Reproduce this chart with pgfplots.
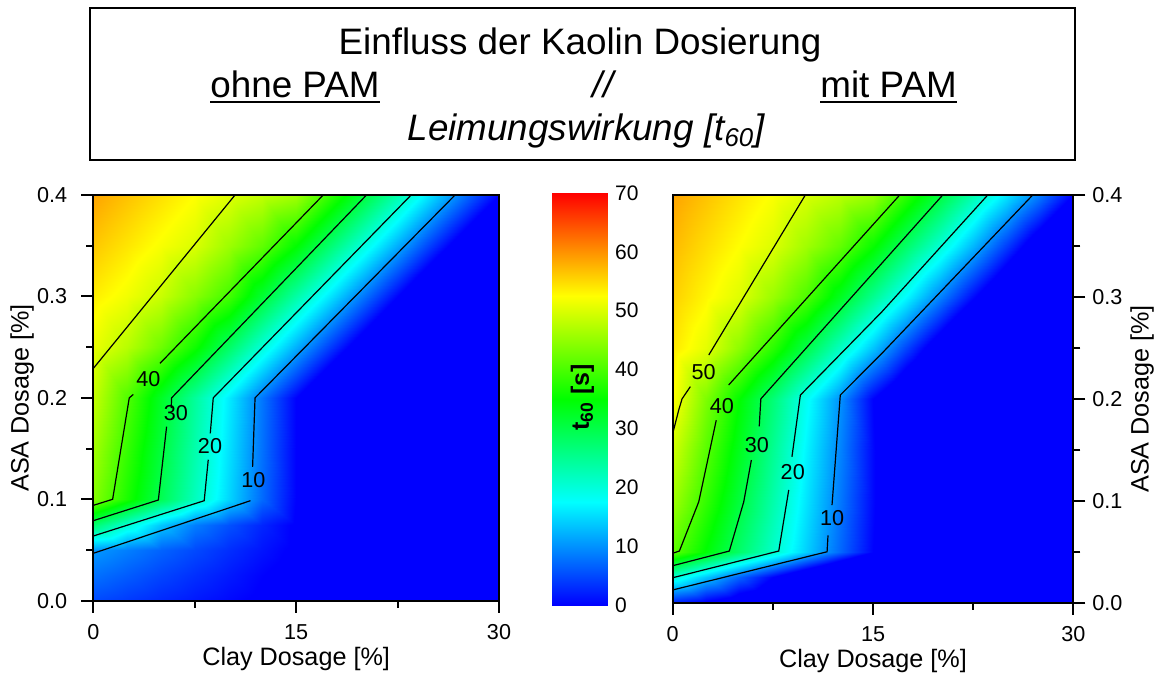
\documentclass[border=0pt]{standalone}
\usepackage{fontspec}
\setmainfont{Liberation Sans}
\usepackage{pgfplots}
\usepackage{pgfplotstable}
\pgfplotsset{compat=1.18}
\pgfplotsset{/pgf/number format/assume math mode=true}
% colour bar map (0..70)
\pgfplotsset{colormap={origin}{rgb255(0cm)=(0,0,255); rgb255(1cm)=(0,255,255); rgb255(2cm)=(0,255,0); rgb255(3cm)=(255,255,0); rgb255(4cm)=(255,0,0)}}
% same map for the fields, extended below 0 with constant blue (-30..70)
\pgfplotsset{colormap={originext}{rgb255(0pt)=(0,0,255); rgb255(30pt)=(0,0,255); rgb255(47.5pt)=(0,255,255); rgb255(65pt)=(0,255,0); rgb255(82.5pt)=(255,255,0); rgb255(100pt)=(255,0,0)}}
\newcommand\tickfont{\fontsize{10.8}{13}\selectfont}
\newcommand\labfont{\fontsize{12.6}{15}\selectfont}
\newcommand\titlefont{\fontsize{18.4}{22}\selectfont}

% t60 grid, ohne PAM (clay, ASA, t60); values below 0 render as the same blue
\pgfplotstableread[row sep=\\]{
x y z\\
0 0 5.0\\2.5 0 3.9\\5 0 2.7\\7.5 0 1.6\\10 0 0.5\\12.5 0 -0.6\\15 0 -1.7\\17.5 0 -2.8\\20 0 -3.9\\22.5 0 -5\\25 0 -6\\27.5 0 -7\\30 0 -8\\
0 0.025 7.8\\2.5 0.025 6.3\\5 0.025 4.7\\7.5 0.025 3.2\\10 0.025 1.7\\12.5 0.025 0.1\\15 0.025 -1.4\\17.5 0.025 -2.9\\20 0.025 -4.4\\22.5 0.025 -6\\25 0.025 -7.5\\27.5 0.025 -9\\30 0.025 -10.5\\
0 0.05 10.5\\2.5 0.05 8.7\\5 0.05 6.8\\7.5 0.05 5.0\\10 0.05 3.1\\12.5 0.05 1.3\\15 0.05 -0.6\\17.5 0.05 -2.4\\20 0.05 -4.2\\22.5 0.05 -6\\25 0.05 -8\\27.5 0.05 -10\\30 0.05 -12\\
0 0.075 27.4\\2.5 0.075 20.4\\5 0.075 13.6\\7.5 0.075 8.6\\10 0.075 5.5\\12.5 0.075 2.5\\15 0.075 -0.5\\17.5 0.075 -3.5\\20 0.075 -6.5\\22.5 0.075 -9.5\\25 0.075 -12.5\\27.5 0.075 -15.5\\30 0.075 -18.5\\
0 0.1 44.2\\2.5 0.1 36.8\\5 0.1 29.4\\7.5 0.1 22.0\\10 0.1 14.7\\12.5 0.1 7.3\\15 0.1 0\\17.5 0.1 -7.4\\20 0.1 -14.7\\22.5 0.1 -22\\25 0.1 -29.4\\27.5 0.1 -30\\30 0.1 -30\\
0 0.15 46.3\\2.5 0.15 38.6\\5 0.15 30.9\\7.5 0.15 23.2\\10 0.15 15.5\\12.5 0.15 7.8\\15 0.15 0\\17.5 0.15 -7.7\\20 0.15 -15.4\\22.5 0.15 -23.1\\25 0.15 -30\\27.5 0.15 -30\\30 0.15 -30\\
0 0.2 48.6\\2.5 0.2 40.5\\5 0.2 32.4\\7.5 0.2 24.3\\10 0.2 16.2\\12.5 0.2 8.1\\15 0.2 0\\17.5 0.2 -8.1\\20 0.2 -16.2\\22.5 0.2 -24.3\\25 0.2 -30\\27.5 0.2 -30\\30 0.2 -30\\
0 0.25 51.2\\2.5 0.25 47.6\\5 0.25 42.5\\7.5 0.25 36.0\\10 0.25 28.1\\12.5 0.25 20.1\\15 0.25 12.1\\17.5 0.25 4.1\\20 0.25 -3.8\\22.5 0.25 -11.8\\25 0.25 -19.8\\27.5 0.25 -27.8\\30 0.25 -30\\
0 0.3 53.7\\2.5 0.3 51.6\\5 0.3 48.8\\7.5 0.3 44.3\\10 0.3 39.5\\12.5 0.3 31.6\\15 0.3 23.7\\17.5 0.3 15.9\\20 0.3 8.0\\22.5 0.3 0\\25 0.3 -7.9\\27.5 0.3 -15.8\\30 0.3 -23.7\\
0 0.35 56.3\\2.5 0.35 54.2\\5 0.35 52.0\\7.5 0.35 49.9\\10 0.35 45.7\\12.5 0.35 41.5\\15 0.35 35.0\\17.5 0.35 27.2\\20 0.35 19.5\\22.5 0.35 11.7\\25 0.35 3.9\\27.5 0.35 -3.9\\30 0.35 -11.7\\
0 0.4 58.8\\2.5 0.4 56.7\\5 0.4 54.6\\7.5 0.4 52.5\\10 0.4 50.4\\12.5 0.4 48.3\\15 0.4 46.2\\17.5 0.4 38.5\\20 0.4 30.8\\22.5 0.4 23.1\\25 0.4 15.4\\27.5 0.4 7.7\\30 0.4 0\\
}\leftgrid

% t60 grid, mit PAM
\pgfplotstableread[row sep=\\]{
x y z\\
0 0 2.0\\2.5 0 -1\\5 0 -4\\7.5 0 -7\\10 0 -10\\12.5 0 -13\\15 0 -16\\17.5 0 -19\\20 0 -22\\22.5 0 -25\\25 0 -28\\27.5 0 -30\\30 0 -30\\
0 0.025 20.4\\2.5 0.025 13.6\\5 0.025 6.8\\7.5 0.025 0\\10 0.025 -6.8\\12.5 0.025 -13.6\\15 0.025 -20.4\\17.5 0.025 -27\\20 0.025 -30\\22.5 0.025 -30\\25 0.025 -30\\27.5 0.025 -30\\30 0.025 -30\\
0 0.05 41.3\\2.5 0.05 34.7\\5 0.05 27.9\\7.5 0.05 21.2\\10 0.05 14.3\\12.5 0.05 7.1\\15 0.05 0\\17.5 0.05 -7.1\\20 0.05 -14.2\\22.5 0.05 -21.3\\25 0.05 -28.4\\27.5 0.05 -30\\30 0.05 -30\\
0 0.075 43.6\\2.5 0.075 36.6\\5 0.075 29.4\\7.5 0.075 22.3\\10 0.075 15.1\\12.5 0.075 7.7\\15 0.075 0.3\\17.5 0.075 -7\\20 0.075 -14\\22.5 0.075 -21\\25 0.075 -28\\27.5 0.075 -30\\30 0.075 -30\\
0 0.1 45.9\\2.5 0.1 38.4\\5 0.1 30.9\\7.5 0.1 23.3\\10 0.1 15.8\\12.5 0.1 8.3\\15 0.1 0.5\\17.5 0.1 -7\\20 0.1 -14\\22.5 0.1 -21\\25 0.1 -28\\27.5 0.1 -30\\30 0.1 -30\\
0 0.15 49.2\\2.5 0.15 41.0\\5 0.15 33.1\\7.5 0.15 25.0\\10 0.15 16.9\\12.5 0.15 9.1\\15 0.15 0.5\\17.5 0.15 -7.5\\20 0.15 -15\\22.5 0.15 -22.5\\25 0.15 -30\\27.5 0.15 -30\\30 0.15 -30\\
0 0.2 52.5\\2.5 0.2 43.5\\5 0.2 35.1\\7.5 0.2 26.9\\10 0.2 18.3\\12.5 0.2 10.0\\15 0.2 0\\17.5 0.2 -7.5\\20 0.2 -15\\22.5 0.2 -22.5\\25 0.2 -30\\27.5 0.2 -30\\30 0.2 -30\\
0 0.25 54.1\\2.5 0.25 50.7\\5 0.25 44.7\\7.5 0.25 37.8\\10 0.25 30.0\\12.5 0.25 21.7\\15 0.25 13.5\\17.5 0.25 4.7\\20 0.25 -4.0\\22.5 0.25 -12.7\\25 0.25 -21.4\\27.5 0.25 -30\\30 0.25 -30\\
0 0.3 55.7\\2.5 0.3 53.0\\5 0.3 50.3\\7.5 0.3 45.5\\10 0.3 40.3\\12.5 0.3 32.8\\15 0.3 25.1\\17.5 0.3 17.3\\20 0.3 8.9\\22.5 0.3 0.6\\25 0.3 -7.7\\27.5 0.3 -16\\30 0.3 -24\\
0 0.35 57.2\\2.5 0.35 54.8\\5 0.35 52.5\\7.5 0.35 50.1\\10 0.35 46.0\\12.5 0.35 41.7\\15 0.35 35.5\\17.5 0.35 27.9\\20 0.35 20.4\\22.5 0.35 12.6\\25 0.35 4.0\\27.5 0.35 -4.5\\30 0.35 -13\\
0 0.4 58.8\\2.5 0.4 56.6\\5 0.4 54.4\\7.5 0.4 52.2\\10 0.4 49.9\\12.5 0.4 47.7\\15 0.4 45.5\\17.5 0.4 38.1\\20 0.4 30.7\\22.5 0.4 23.2\\25 0.4 15.8\\27.5 0.4 8.4\\30 0.4 0\\
}\rightgrid

\pgfplotstableread[row sep=\\]{
x y z\\
0 0 0\\1 0 0\\0 17.5 17.5\\1 17.5 17.5\\0 35 35\\1 35 35\\0 52.5 52.5\\1 52.5 52.5\\0 70 70\\1 70 70\\
}\cbgrid

\pgfplotsset{
  fieldaxis/.style={scale only axis, scale mode=stretch to fill, view={0}{90}, hide axis,
    enlargelimits=false, zmin=-30, zmax=70, colormap name=originext,
    point meta min=-30, point meta max=70, anchor=south west},
  frameaxis/.style={scale only axis, anchor=south west, xmin=0, xmax=30, ymin=0, ymax=0.4,
    enlargelimits=false, xtick={0,15,30}, ytick={0,0.1,0.2,0.3,0.4},
    minor x tick num=1, minor y tick num=1, tick align=outside,
    axis line style={line width=1pt}, every tick/.style={black, line width=1pt},
    major tick length=6pt, minor tick length=3.5pt,
    tick label style={font=\tickfont},
    xticklabel style={yshift=-2.5pt},
    yticklabel style={/pgf/number format/fixed, /pgf/number format/fixed zerofill, /pgf/number format/precision=1},
    label style={font=\labfont},
    xlabel={Clay Dosage [\%]}, ylabel={ASA Dosage [\%]}},
  ctr/.style={black, line width=0.6pt, no markers},
}

\begin{document}
\begin{tikzpicture}
\useasboundingbox (0,0) rectangle (585pt,338.5pt);

% ---------- left field ----------
\begin{axis}[fieldaxis, at={(46.65pt,38.15pt)}, width=202.85pt, height=202.85pt,
  xmin=0, xmax=30, ymin=0, ymax=0.4]
\addplot3[surf, shader=interp, mesh/cols=13] table {\leftgrid};
\end{axis}
\begin{axis}[frameaxis, at={(46.65pt,38.15pt)}, width=202.85pt, height=202.85pt,
  xtick pos=left, ytick pos=left, yticklabel style={xshift=-3.5pt},
  xlabel style={at={(axis description cs:0.5,-0.1436)}, anchor=center},
  ylabel style={at={(axis description cs:-0.1756,0.5)}, anchor=center}]
\addplot[ctr] coordinates {(0,0.229) (10.48,0.4)};
\addplot[ctr] coordinates {(0,0.094) (1.43,0.1) (2.66,0.2) (2.96,0.2034)};
\addplot[ctr] coordinates {(4.93,0.234) (17.0,0.4)};
\addplot[ctr] coordinates {(0,0.0789) (4.81,0.0993) (5.42,0.1716)};
\addplot[ctr] coordinates {(5.76,0.19) (5.79,0.2) (20.2,0.4)};
\addplot[ctr] coordinates {(0,0.0638) (8.2,0.0986) (8.5,0.139)};
\addplot[ctr] coordinates {(8.65,0.165) (8.87,0.2) (23.5,0.4)};
\addplot[ctr] coordinates {(0,0.0467) (11.62,0.0986)};
\addplot[ctr] coordinates {(11.78,0.132) (11.96,0.2) (26.75,0.4)};
\node[font=\tickfont] at (axis cs:4.07,0.2186) {40};
\node[font=\tickfont] at (axis cs:6.11,0.1847) {30};
\node[font=\tickfont] at (axis cs:8.63,0.152) {20};
\node[font=\tickfont] at (axis cs:11.83,0.119) {10};
\end{axis}

% ---------- right field ----------
\begin{axis}[fieldaxis, at={(336.35pt,37.15pt)}, width=200.3pt, height=203.85pt,
  xmin=0, xmax=30, ymin=0, ymax=0.4]
\addplot3[surf, shader=interp, mesh/cols=13] table {\rightgrid};
\end{axis}
\begin{axis}[frameaxis, at={(336.35pt,37.15pt)}, width=200.3pt, height=203.85pt,
  xtick pos=left, ytick pos=right, yticklabel pos=right,
  xlabel style={at={(axis description cs:0.5,-0.143)}, anchor=center},
  ylabel style={at={(axis description cs:1.1715,0.5)}, anchor=center}]
\addplot[ctr] coordinates {(0,0.166) (0.45,0.189) (0.70,0.2) (1.32,0.212)};
\addplot[ctr] coordinates {(2.70,0.243) (9.93,0.4)};
\addplot[ctr] coordinates {(0,0.0485) (0.5,0.0507) (1.95,0.099) (3.26,0.179)};
\addplot[ctr] coordinates {(4.19,0.2136) (17.0,0.4)};
\addplot[ctr] coordinates {(0,0.0363) (4.24,0.0507) (5.32,0.099) (5.89,0.140)};
\addplot[ctr] coordinates {(6.48,0.173) (6.6,0.2) (20.22,0.4)};
\addplot[ctr] coordinates {(0,0.0245) (7.94,0.0507) (8.69,0.1106)};
\addplot[ctr] coordinates {(8.93,0.1432) (9.56,0.2037) (15.67,0.2855) (23.59,0.4)};
\addplot[ctr] coordinates {(0,0.0125) (11.56,0.05) (11.63,0.066)};
\addplot[ctr] coordinates {(11.93,0.0958) (12.55,0.2037) (15.67,0.2447) (26.96,0.4)};
\node[font=\tickfont] at (axis cs:2.32,0.2266) {50};
\node[font=\tickfont] at (axis cs:3.69,0.193) {40};
\node[font=\tickfont] at (axis cs:6.31,0.1547) {30};
\node[font=\tickfont] at (axis cs:8.99,0.128) {20};
\node[font=\tickfont] at (axis cs:11.93,0.0828) {10};
\end{axis}

% ---------- colour bar ----------
\begin{axis}[fieldaxis, at={(276pt,36pt)}, width=28pt, height=206pt,
  xmin=0, xmax=1, ymin=0, ymax=70, zmin=0, zmax=70, colormap name=origin,
  point meta min=0, point meta max=70]
\addplot3[surf, shader=interp, mesh/cols=2] table {\cbgrid};
\end{axis}
\begin{axis}[scale only axis, anchor=south west, at={(276pt,36pt)}, width=28pt, height=206pt,
  xmin=0, xmax=1, ymin=0, ymax=70, enlargelimits=false, xtick=\empty,
  ytick={0,10,20,30,40,50,60,70}, ytick pos=right, yticklabel pos=right,
  major tick length=0pt, axis line style={draw=none},
  yticklabel style={font=\fontsize{10.5}{12}\selectfont}]
\end{axis}
\node[rotate=90, font=\bfseries\fontsize{12.5}{14}\selectfont] at (291.25pt,139.75pt) {t\textsubscript{60} [s]};

% ---------- title box ----------
\draw[line width=0.6pt] (45pt,258.5pt) rectangle (537.5pt,334.5pt);
\node[anchor=base, inner sep=0pt, font=\titlefont] at (290pt,311.5pt) {Einfluss der Kaolin Dosierung};
\node[anchor=base west, inner sep=0pt, font=\titlefont] (a) at (105pt,290pt) {ohne PAM};
\draw[line width=0.9pt] ([yshift=-2.6pt]a.base west) -- ([yshift=-2.6pt]a.base east);
\node[anchor=base, inner sep=0pt, font=\titlefont\itshape] at (301.5pt,290pt) {//};
\node[anchor=base west, inner sep=0pt, font=\titlefont] (b) at (410pt,290pt) {mit PAM};
\draw[line width=0.9pt] ([yshift=-2.6pt]b.base west) -- ([yshift=-2.6pt]b.base east);
\node[anchor=base, inner sep=0pt, font=\titlefont\itshape] at (293pt,268.5pt) {Leimungswirkung [t\textsubscript{60}]};
\end{tikzpicture}
\end{document}
